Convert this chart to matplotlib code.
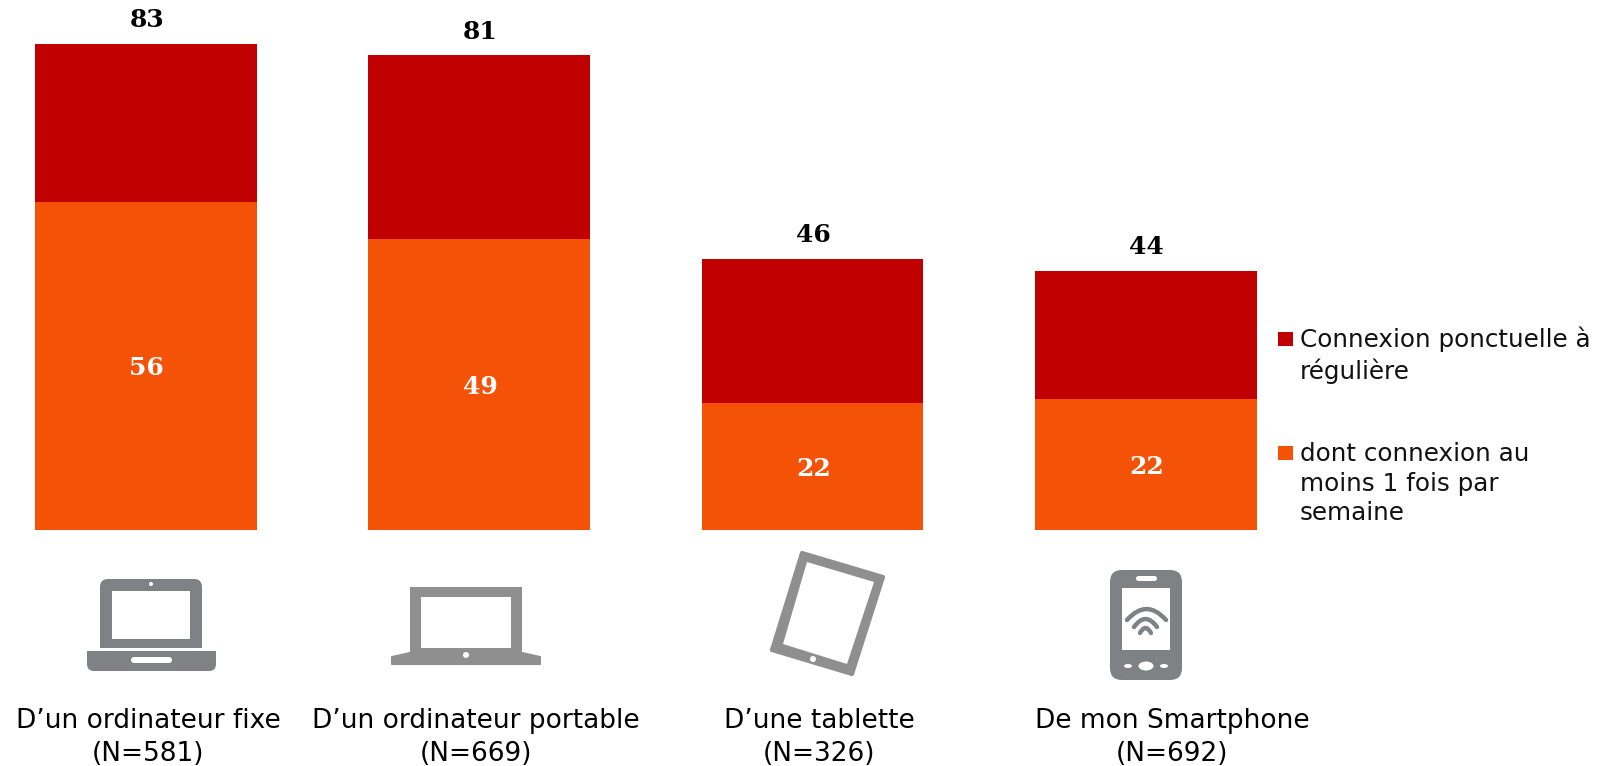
#!/usr/bin/env python3
"""Stacked bars of connection share per device, with device pictograms."""

import matplotlib
matplotlib.use("Agg")
import matplotlib.pyplot as plt
from matplotlib.patches import Circle, Ellipse, FancyBboxPatch, PathPatch, Polygon, Rectangle
from matplotlib.path import Path

# ── Data ─────────────────────────────────────────────────────────
CATEGORIES = [
    "D’un ordinateur fixe\n(N=581)",
    "D’un ordinateur portable\n(N=669)",
    "D’une tablette\n(N=326)",
    "De mon Smartphone\n(N=692)",
]
# bar heights as drawn in the picture, labels as printed on it
TOTAL_HEIGHTS = [83, 81, 46.3, 44.2]
WEEKLY_HEIGHTS = [56, 49.6, 21.6, 22.3]
TOTAL_LABELS = ["83", "81", "46", "44"]
WEEKLY_LABELS = ["56", "49", "22", "22"]
LEGEND_LABELS = ["Connexion ponctuelle à\nrégulière", "dont connexion au\nmoins 1 fois par\nsemaine"]

# ── Styling ──────────────────────────────────────────────────────
RED = "#C00000"
ORANGE = "#F45207"
ICON_DARK = "#7F8284"
ICON_LIGHT = "#8F8F8F"
WIDTH, HEIGHT = 1598, 766
BASELINE_PX = 530
PX_PER_UNIT = 5.86
FIRST_BAR_PX = 146
BAR_STEP_PX = 333.3
BAR_WIDTH = 0.665
# the category labels are not quite centred under their bars
LABEL_SHIFT_PT = [1.7, -2.3, 4.7, 19]

plt.rcParams["font.family"] = "DejaVu Sans"
fig = plt.figure(figsize=(WIDTH / 100, HEIGHT / 100), dpi=100)

ax = fig.add_axes([0, 0, 1, 1])
ax.set_xlim(-FIRST_BAR_PX / BAR_STEP_PX, (WIDTH - FIRST_BAR_PX) / BAR_STEP_PX)
ax.set_ylim(-(HEIGHT - BASELINE_PX) / PX_PER_UNIT, BASELINE_PX / PX_PER_UNIT)
ax.axis("off")

xs = list(range(len(CATEGORIES)))
ax.bar(xs, TOTAL_HEIGHTS, BAR_WIDTH, color=RED)
ax.bar(xs, WEEKLY_HEIGHTS, BAR_WIDTH, color=ORANGE)

for x, top, weekly, top_label, weekly_label in zip(xs, TOTAL_HEIGHTS, WEEKLY_HEIGHTS, TOTAL_LABELS, WEEKLY_LABELS):
    ax.annotate(top_label, (x, top), xytext=(0.5, 8.5), textcoords="offset points",
                ha="center", va="bottom", fontsize=18, fontweight="bold",
                family="DejaVu Serif", color="black")
    ax.annotate(weekly_label, (x, weekly / 2), xytext=(0.5, -1.5), textcoords="offset points",
                ha="center", va="center", fontsize=18, fontweight="bold",
                family="DejaVu Serif", color="white")

for x, label, shift in zip(xs, CATEGORIES, LABEL_SHIFT_PT):
    ax.annotate(label, (x, 0), xytext=(shift, -128), textcoords="offset points",
                ha="center", va="top", fontsize=19, linespacing=1.34)

# ── Pictograms and legend, in pixel coordinates ──────────────────
px = fig.add_axes([0, 0, 1, 1])
px.set_xlim(0, WIDTH)
px.set_ylim(HEIGHT, 0)
px.axis("off")
px.patch.set_alpha(0)


def rounded(x0, y0, x1, y1, r, color):
    px.add_patch(FancyBboxPatch((x0 + r, y0 + r), x1 - x0 - 2 * r, y1 - y0 - 2 * r,
                                boxstyle=f"round,pad={r},rounding_size={r}",
                                fc=color, ec="none"))


def arc(x0, x1, y_end, y_peak, color):
    mid = (x0 + x1) / 2
    path = Path([(x0, y_end), (mid, 2 * y_peak - y_end), (x1, y_end)],
                [Path.MOVETO, Path.CURVE3, Path.CURVE3])
    px.add_patch(PathPatch(path, fc="none", ec=color, lw=3.2, capstyle="round"))


# desktop-labelled laptop
rounded(100, 579, 202, 660, 8, ICON_DARK)
px.add_patch(Rectangle((99, 648), 104, 14, fc="white", ec="none"))
px.add_patch(Rectangle((112, 591), 78, 48, fc="white", ec="none"))
px.add_patch(Circle((151, 584), 2, fc="white", ec="none"))
rounded(87, 651, 216, 671, 7, ICON_DARK)
px.add_patch(Rectangle((87, 651), 129, 9, fc=ICON_DARK, ec="none"))
rounded(131, 657, 172, 663, 3, "white")

# portable laptop
px.add_patch(Rectangle((410, 587), 112, 70, fc=ICON_LIGHT, ec="none"))
px.add_patch(Polygon([(392, 657), (410, 653), (522, 653), (540, 657), (540, 664), (392, 664)],
                     fc=ICON_LIGHT, ec=ICON_LIGHT, lw=1.5, joinstyle="round"))
px.add_patch(Rectangle((421, 597), 90, 51, fc="white", ec="none"))
px.add_patch(Circle((466, 655), 3, fc="white", ec="none"))

# tablet
px.add_patch(Polygon([(802, 553), (883, 577), (852, 674), (772, 650)],
                     fc=ICON_LIGHT, ec=ICON_LIGHT, lw=3, joinstyle="round"))
px.add_patch(Polygon([(807, 562), (874, 582), (847, 664), (783, 644)], fc="white", ec="none"))
px.add_patch(Circle((813, 659), 3, fc="white", ec="none"))

# smartphone
rounded(1110, 570, 1182, 680, 12, ICON_DARK)
px.add_patch(Rectangle((1122, 588), 48, 62, fc="white", ec="none"))
rounded(1136, 576, 1157, 581, 2.5, "white")
arc(1127, 1166, 620, 609, ICON_DARK)
arc(1134, 1157, 627, 619, ICON_DARK)
arc(1140, 1151, 633, 628, ICON_DARK)
px.add_patch(Ellipse((1146, 666), 15, 9, fc="white", ec="none"))
px.add_patch(Ellipse((1128, 666), 8, 4, fc="white", ec="none"))
px.add_patch(Ellipse((1164, 666), 8, 4, fc="white", ec="none"))

# legend
for y, y_text, color, label in zip([332, 446], [327, 442], [RED, ORANGE], LEGEND_LABELS):
    px.add_patch(Rectangle((1278, y), 14.5, 14, fc=color, ec="none"))
    px.text(1300, y_text, label, ha="left", va="top", fontsize=17.7, linespacing=1.29, color="#111111")

fig.savefig("out.png", dpi=100, facecolor="white")
plt.close(fig)
